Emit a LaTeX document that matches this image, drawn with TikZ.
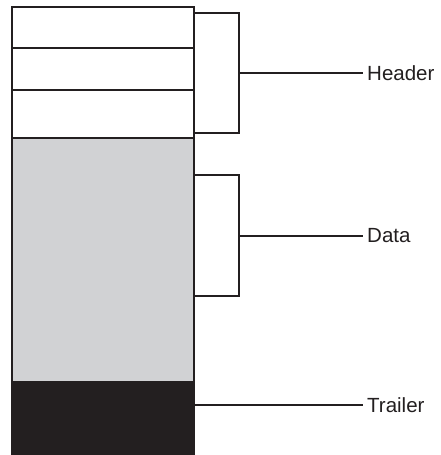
\documentclass[tikz,border=0pt]{standalone}
\usepackage{fontspec}
\setmainfont{Liberation Sans}
\definecolor{datagray}{HTML}{D1D2D4}
\definecolor{trailerblack}{HTML}{231F20}
\begin{document}
\begin{tikzpicture}[x=1pt,y=-1pt,
  field/.style={draw=trailerblack, line width=1.1pt, anchor=north west,
    minimum width=182pt, inner sep=0pt, outer sep=0pt},
  bracket/.style={draw=trailerblack, line width=1.5pt, line join=miter},
  lead/.style={draw=trailerblack, line width=1.5pt},
  lbl/.style={anchor=west, inner xsep=4pt, inner ysep=0pt, text=trailerblack,
    font=\fontsize{20.5}{24}\selectfont}]
  \useasboundingbox (0,0) rectangle (441,455);
  % packet fields, top to bottom
  \node[field, fill=white, minimum height=41pt] (h1) at (12,7) {};
  \node[field, fill=white, minimum height=42pt] (h2) at (12,48) {};
  \node[field, fill=white, minimum height=48pt] (h3) at (12,90) {};
  \node[field, fill=datagray, minimum height=244pt] (data) at (12,138) {};
  \node[field, fill=trailerblack, minimum height=72pt] (trl) at (12,382) {};
  % labels
  \node[lbl] (lh) at (363,73) {Header};
  \node[lbl] (ld) at (363,236) {Data};
  \node[lbl] (lt) at (363,405) {Trailer};
  % header bracket
  \coordinate (hb) at (239,73);
  \draw[bracket] (194,13) -- (239,13) -- (239,133) -- (194,133);
  \draw[lead] (hb) -- (lh.west);
  % data bracket
  \coordinate (db) at (239,236);
  \draw[bracket] (194,175) -- (239,175) -- (239,296) -- (194,296);
  \draw[lead] (db) -- (ld.west);
  % trailer leader
  \coordinate (tb) at (194,405);
  \draw[lead] (tb) -- (lt.west);
\end{tikzpicture}
\end{document}
